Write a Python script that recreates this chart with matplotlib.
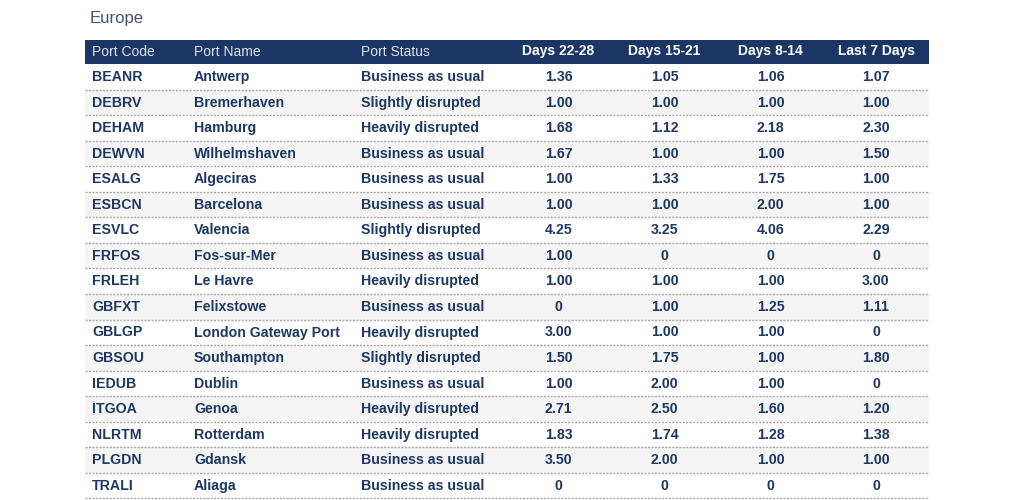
import matplotlib.pyplot as plt
from matplotlib.patches import Rectangle

plt.rcParams["font.family"] = ["Liberation Sans", "DejaVu Sans"]

# Data
region = "Europe"
headers = ["Port Code", "Port Name", "Port Status", "Days 22-28", "Days 15-21", "Days 8-14", "Last 7 Days"]
port_codes = ["BEANR", "DEBRV", "DEHAM", "DEWVN", "ESALG", "ESBCN", "ESVLC", "FRFOS", "FRLEH",
              "GBFXT", "GBLGP", "GBSOU", "IEDUB", "ITGOA", "NLRTM", "PLGDN", "TRALI"]
port_names = ["Antwerp", "Bremerhaven", "Hamburg", "Wilhelmshaven", "Algeciras", "Barcelona", "Valencia",
              "Fos-sur-Mer", "Le Havre", "Felixstowe", "London Gateway Port", "Southampton", "Dublin",
              "Genoa", "Rotterdam", "Gdansk", "Aliaga"]
port_status = ["Business as usual", "Slightly disrupted", "Heavily disrupted", "Business as usual",
               "Business as usual", "Business as usual", "Slightly disrupted", "Business as usual",
               "Heavily disrupted", "Business as usual", "Heavily disrupted", "Slightly disrupted",
               "Business as usual", "Heavily disrupted", "Heavily disrupted", "Business as usual",
               "Business as usual"]
days_22_28 = ["1.36", "1.00", "1.68", "1.67", "1.00", "1.00", "4.25", "1.00", "1.00",
              "0", "3.00", "1.50", "1.00", "2.71", "1.83", "3.50", "0"]
days_15_21 = ["1.05", "1.00", "1.12", "1.00", "1.33", "1.00", "3.25", "0", "1.00",
              "1.00", "1.00", "1.75", "2.00", "2.50", "1.74", "2.00", "0"]
days_8_14 = ["1.06", "1.00", "2.18", "1.00", "1.75", "2.00", "4.06", "0", "1.00",
             "1.25", "1.00", "1.00", "1.00", "1.60", "1.28", "1.00", "0"]
last_7_days = ["1.07", "1.00", "2.30", "1.50", "1.00", "1.00", "2.29", "0", "3.00",
               "1.11", "0", "1.80", "0", "1.20", "1.38", "1.00", "0"]

NAVY = "#1b3564"
TEXT = "#1f3763"

fig = plt.figure(figsize=(10.17, 5), dpi=100)
ax = fig.add_axes([0, 0, 1, 1])
ax.set_xlim(0, 1017)
ax.set_ylim(500, 0)
ax.axis("off")

left, right = 85, 929
head_top, head_bottom = 39.5, 64
row_h = 25.55
text_cols = [92, 194, 361]
num_cols = [558.5, 664.5, 770.5, 876]

ax.text(89.5, 18.5, region, fontsize=12, color="#44546f", va="center", ha="left")

# header band
ax.add_patch(Rectangle((left, head_top), right - left, head_bottom - head_top, color=NAVY, lw=0))
for x, h in zip(text_cols, headers[:3]):
    ax.text(x, 55.5, h, fontsize=10, color="#dfe4ec", va="baseline", ha="left")
for x, h in zip(num_cols, headers[3:]):
    ax.text(x, 55.5, h, fontsize=10, color="white", va="baseline", ha="center", fontweight="bold")

# rows
for i, code in enumerate(port_codes):
    top = head_bottom + i * row_h
    base = top + 17
    if i % 2 == 1:
        ax.add_patch(Rectangle((left, top), right - left, row_h, color="#f5f5f5", lw=0, zorder=0))
    ax.plot([left, right], [top + row_h, top + row_h], color="#a8a8a8", lw=1, ls=(0, (1.5, 1)), zorder=1)
    row_text = [code, port_names[i], port_status[i]]
    for x, s in zip(text_cols, row_text):
        ax.text(x, base, s, fontsize=10.2, color=TEXT, va="baseline", ha="left", fontweight="bold")
    row_nums = [days_22_28[i], days_15_21[i], days_8_14[i], last_7_days[i]]
    for x, s in zip(num_cols, row_nums):
        ax.text(x, base, s, fontsize=10.2, color=TEXT, va="baseline", ha="center", fontweight="bold")

fig.savefig("out.png", dpi=100)
plt.close(fig)
